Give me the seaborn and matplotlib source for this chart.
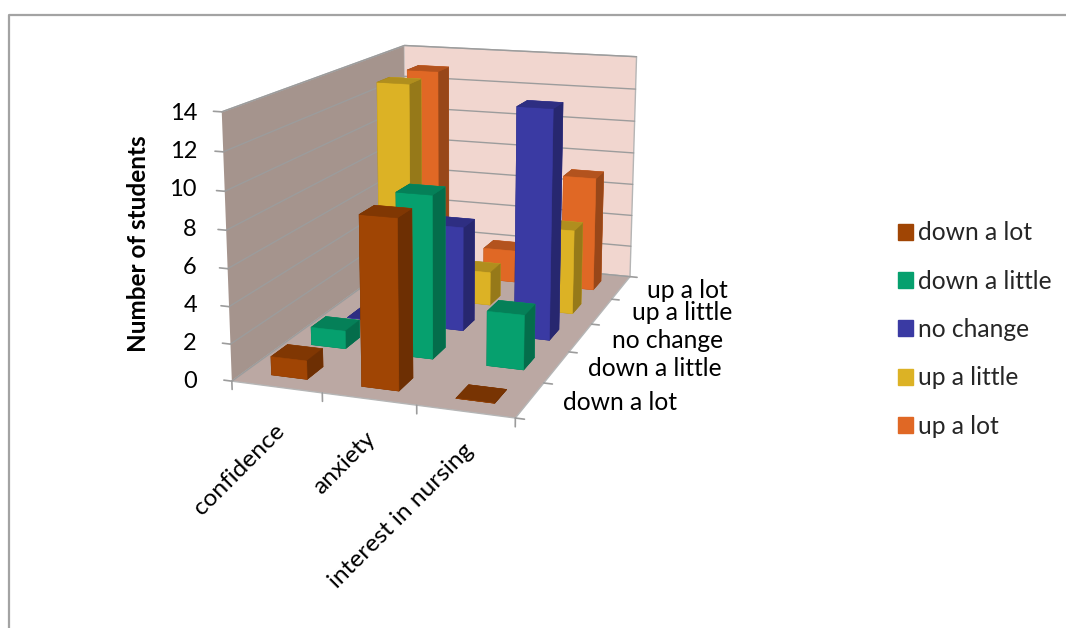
import matplotlib
matplotlib.use("Agg")
import matplotlib.pyplot as plt
from matplotlib.patches import Patch
from matplotlib.lines import Line2D
import seaborn as sns

categories = ["confidence", "anxiety", "interest in nursing"]
responses = ["down a lot", "down a little", "no change", "up a little", "up a lot"]
down_a_lot = [1, 9, 0]
down_a_little = [1, 9, 3]
no_change = [0, 6, 13]
up_a_little = [13, 2, 5]
up_a_lot = [13, 2, 7]
series = [down_a_lot, down_a_little, no_change, up_a_little, up_a_lot]
front_colors = ["#a04504", "#06a06e", "#3a3aa3", "#dcb225", "#e06825"]
z_ticks = list(range(0, 15, 2))

W, H = 1066, 628
sns.set_theme(style="white")
plt.rcParams["font.family"] = ["Lato", "DejaVu Sans"]
fig = plt.figure(figsize=(W / 100, H / 100), dpi=100)

# Square 3D axes, shifted so the perspective box sits left of the legend
S = 800
ax = fig.add_axes([((W - S) / 2 - 91.934) / W, ((H - S) / 2 + 98.4312) / H, S / W, S / H],
                  projection="3d", computed_zorder=False)
ax.set_xlim(0, 3, view_margin=0)
ax.set_ylim(0, 5, view_margin=0)
ax.set_zlim(0, 14, view_margin=0)
ax.view_init(elev=13.9288, azim=-70.8017)
ax.set_proj_type("persp", focal_length=0.3469)
ax.set_box_aspect((1, 1.6497, 0.9233), zoom=0.7010)

# Walls and floor
ax.xaxis.set_pane_color("#a5948d")
ax.yaxis.set_pane_color("#f1d6cf")
ax.zaxis.set_pane_color("#bba8a3")
for a in (ax.xaxis, ax.yaxis, ax.zaxis):
    a.pane.set_edgecolor("#b5b5b5")
    a.line.set_color((0, 0, 0, 0))
ax.set_xticks([])
ax.set_yticks([])
ax.set_zticks([])
ax.grid(False)

# Horizontal gridlines around the walls, plus tick marks on all three axes
for v in z_ticks:
    ax.plot([0, 0, 3], [0, 5, 5], [v, v, v], color="#9c9c9c", lw=1, zorder=1)
    ax.plot([-0.09, 0], [0, 0], [v, v], color="#9c9c9c", lw=1.2, zorder=1)
for i in range(4):
    ax.plot([i, i], [0, 0], [0, -0.45], color="#9c9c9c", lw=1.2, zorder=1)
for j in range(6):
    ax.plot([3, 3.09], [j, j], [0, 0], color="#9c9c9c", lw=1.2, zorder=1)


def shade(c, k):
    return tuple(v * k for v in matplotlib.colors.to_rgb(c))


# Bars are painted from the back row to the front row, left to right
palette = sns.color_palette(front_colors)
bar_size = 0.4
order = 10
for j in range(4, -1, -1):
    for i in range(3):
        c = palette[j]
        faces = [shade(c, .75), shade(c, .8), c, c, shade(c, .68), shade(c, .68)]
        ax.bar3d(i + .3, j + .3, 0, bar_size, bar_size, series[j][i], color=faces,
                 edgecolor=faces, linewidth=.4, shade=False, zorder=order)
        order += 1


def label(px, py, s, **kw):
    fig.text(px / W, 1 - py / H, s, color="black", **kw)


for v, py in zip(z_ticks, [381, 344, 306, 268, 229, 190, 152, 114]):
    label(197, py, str(v), ha="right", va="center", fontsize=17)
label(138, 244, "Number of students", rotation=90, ha="center", va="center",
      fontsize=17.5, fontweight="bold")
for s, (px, py) in zip(categories, [(274, 420), (365, 428), (463, 440)]):
    label(px, py, s, rotation=45, rotation_mode="anchor", ha="right", va="top", fontsize=17.6)
for s, (px, py) in zip(responses, [(563, 403), (588, 369), (612, 340), (632, 313), (647, 290)]):
    label(px, py, s, ha="left", va="center", fontsize=17.7)

handles = [Patch(facecolor=c, edgecolor=c, label=r) for c, r in zip(palette, responses)]
fig.legend(handles=handles, loc="center left", bbox_to_anchor=(898 / W, 1 - 329.5 / H), frameon=False,
           fontsize=17.7, handlelength=.61, handleheight=.61, handletextpad=.2, labelspacing=1.03,
           borderpad=0, borderaxespad=0)

# Chart-area border along the top and left
fig.add_artist(Line2D([9 / W, 9 / W, 1], [0, 1 - 15 / H, 1 - 15 / H], color="#a3a3a3", lw=1.6))
fig.savefig("out.png", dpi=100)
